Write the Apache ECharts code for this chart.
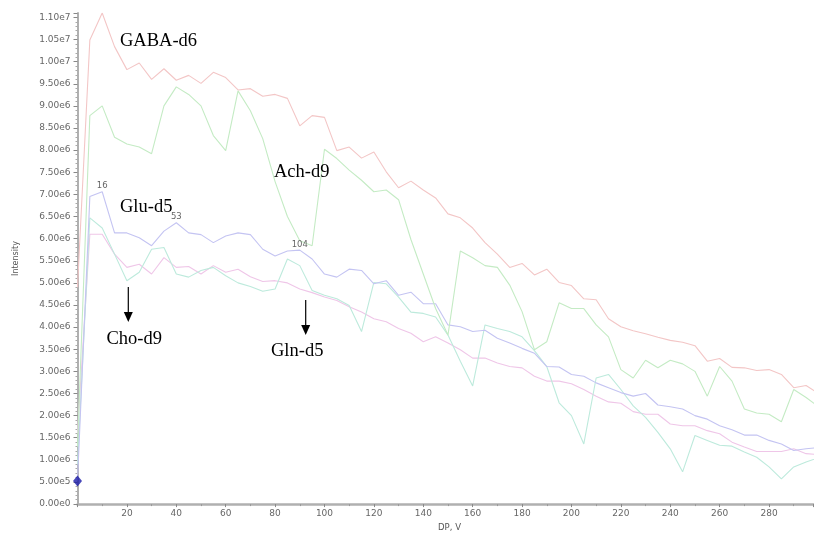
<!DOCTYPE html>
<html>
<head>
<meta charset="utf-8">
<style>
  html, body { margin: 0; padding: 0; background: #fff; }
  #chart { width: 814px; height: 537px; }
</style>
<script src="https://cdn.jsdelivr.net/npm/echarts@6/dist/echarts.min.js"></script>
</head>
<body>
<div id="chart"></div>
<script>
// Declustering potential (V) sampled every 5 V
const dpValues = [0, 5, 10, 15, 20, 25, 30, 35, 40, 45, 50, 55, 60, 65, 70, 75, 80, 85, 90, 95,
  100, 105, 110, 115, 120, 125, 130, 135, 140, 145, 150, 155, 160, 165, 170, 175, 180, 185, 190, 195,
  200, 205, 210, 215, 220, 225, 230, 235, 240, 245, 250, 255, 260, 265, 270, 275, 280, 285, 290, 295, 300];

// Intensities in units of 1e6 counts
const gabaD6 = [4.9, 10.49, 11.1, 10.34, 9.82, 9.97, 9.6, 9.84, 9.58, 9.69, 9.51, 9.76, 9.64, 9.36, 9.39, 9.22, 9.26, 9.17, 8.55, 8.78,
  8.74, 7.99, 8.07, 7.82, 7.96, 7.51, 7.15, 7.30, 7.10, 6.92, 6.56, 6.47, 6.24, 5.91, 5.65, 5.35, 5.44, 5.18, 5.31, 5.01,
  4.94, 4.64, 4.62, 4.19, 4.01, 3.92, 3.85, 3.77, 3.70, 3.66, 3.58, 3.23, 3.29, 3.09, 3.08, 3.02, 3.04, 2.93, 2.63, 2.68, 2.50];

const achD9 = [1.3, 8.78, 9.0, 8.29, 8.14, 8.07, 7.92, 9.0, 9.43, 9.26, 9.0, 8.33, 7.99, 9.34, 8.89, 8.26, 7.29, 6.5, 5.95, 5.84,
  8.02, 7.81, 7.55, 7.32, 7.06, 7.10, 6.88, 5.98, 5.2, 4.42, 3.82, 5.72, 5.57, 5.39, 5.35, 4.95, 4.35, 3.49, 3.67, 4.55,
  4.42, 4.42, 4.05, 3.78, 3.04, 2.85, 3.25, 3.08, 3.25, 3.17, 3.0, 2.44, 3.11, 2.78, 2.15, 2.06, 2.03, 1.86, 2.59, 2.41, 2.2];

const gluD5 = [0.52, 6.95, 7.06, 6.13, 6.13, 6.02, 5.84, 6.17, 6.36, 6.13, 6.09, 5.91, 6.06, 6.13, 6.09, 5.76, 5.61, 5.72, 5.74, 5.54,
  5.2, 5.13, 5.31, 5.28, 4.98, 5.05, 4.72, 4.79, 4.53, 4.53, 4.05, 4.01, 3.9, 3.93, 3.75, 3.64, 3.52, 3.41, 3.11, 3.10,
  2.93, 2.89, 2.74, 2.63, 2.52, 2.44, 2.50, 2.24, 2.20, 2.15, 2.0, 1.92, 1.77, 1.68, 1.56, 1.56, 1.44, 1.36, 1.21, 1.25, 1.28];

const choD9 = [0.9, 6.47, 6.24, 5.65, 5.05, 5.24, 5.76, 5.8, 5.2, 5.13, 5.28, 5.35, 5.16, 5.0, 4.92, 4.81, 4.86, 5.54, 5.39, 4.83,
  4.72, 4.64, 4.49, 3.90, 5.01, 4.98, 4.68, 4.34, 4.31, 4.23, 3.82, 3.23, 2.67, 4.05, 3.97, 3.9, 3.78, 3.47, 3.11, 2.29,
  2.0, 1.36, 2.85, 2.93, 2.59, 2.22, 1.96, 1.62, 1.25, 0.73, 1.55, 1.44, 1.33, 1.31, 1.18, 1.06, 0.84, 0.57, 0.84, 0.95, 1.05];

const glnD5 = [1.6, 6.1, 6.1, 5.65, 5.35, 5.42, 5.2, 5.57, 5.35, 5.37, 5.2, 5.39, 5.24, 5.31, 5.14, 5.03, 5.05, 5.0, 4.86, 4.78,
  4.68, 4.6, 4.46, 4.34, 4.19, 4.12, 3.97, 3.86, 3.67, 3.78, 3.64, 3.49, 3.30, 3.30, 3.19, 3.11, 3.08, 2.89, 2.78, 2.78,
  2.72, 2.59, 2.44, 2.31, 2.28, 2.09, 2.03, 2.03, 1.81, 1.77, 1.77, 1.66, 1.59, 1.40, 1.29, 1.19, 1.19, 1.19, 1.25, 1.14, 1.12];

// Peak tags on the Glu-d5 trace: [index into dpValues, tag]
const gluTags = [[2, '16'], [8, '53'], [18, '104']];

const yTickStep = 0.5;   // 5.00e5
const yMax = 11.1;
const xMax = 298;

function pairs(values) {
  return values.map((v, i) => [dpValues[i], v]);
}

function lineSeries(name, values, color, extra) {
  return Object.assign({
    name: name, type: 'line', data: pairs(values),
    showSymbol: false, symbol: 'none', clip: true,
    lineStyle: { color: color, width: 1.1 },
    emphasis: { disabled: true }, silent: true, z: 2
  }, extra || {});
}

// Small numeric tags sitting on top of selected Glu-d5 points
const gluTagMarks = {
  markPoint: {
    silent: true,
    symbol: 'circle', symbolSize: 0,
    label: {
      show: true, position: 'top', distance: 1,
      fontFamily: 'DejaVu Sans', fontSize: 8.5, color: '#666',
      formatter: p => p.name
    },
    data: gluTags.map(t => ({ name: t[1], coord: [dpValues[t[0]], gluD5[t[0]]] }))
  }
};

const chart = echarts.init(document.getElementById('chart'), null, { renderer: 'canvas' });

const serif = '"Liberation Serif", "Times New Roman", serif';

function arrow(x, y1, y2) {
  return [
    { type: 'line', shape: { x1: x, y1: y1, x2: x, y2: y2 - 8 }, style: { stroke: '#000', lineWidth: 1.2 }, z: 10 },
    { type: 'polygon', shape: { points: [[x - 4.5, y2 - 10], [x + 4.5, y2 - 10], [x, y2]] }, style: { fill: '#000' }, z: 10 }
  ];
}

function note(text, x, y) {
  return { type: 'text', x: x, y: y, style: { text: text, font: '18.5px ' + serif, fill: '#000', align: 'left', verticalAlign: 'bottom' }, z: 10 };
}

chart.setOption({
  animation: false,
  backgroundColor: '#fff',
  grid: { left: 77.5, right: 0.5, top: 13, bottom: 28, containLabel: false },
  xAxis: {
    type: 'value', min: 0, max: xMax, interval: 20,
    name: 'DP, V', nameLocation: 'middle', nameGap: 18,
    nameTextStyle: { fontFamily: 'DejaVu Sans', fontSize: 8.5, color: '#555', padding: [0, 0, 0, 8] },
    axisLine: { show: true, lineStyle: { color: '#b0b0b0', width: 2.5 } },
    axisTick: { show: true, length: 3, inside: false, lineStyle: { color: '#888' } },
    minorTick: { show: true, splitNumber: 2, length: 2, lineStyle: { color: '#999' } },
    splitLine: { show: false },
    axisLabel: {
      fontFamily: 'DejaVu Sans', fontSize: 9, color: '#666', margin: 5,
      showMinLabel: false, showMaxLabel: false,
      formatter: v => (v === 0 ? '' : String(v))
    }
  },
  yAxis: {
    type: 'value', min: 0, max: yMax, interval: yTickStep,
    name: 'Intensity', nameLocation: 'middle', nameGap: 58, nameRotate: 90,
    nameTextStyle: { fontFamily: 'DejaVu Sans', fontSize: 8, color: '#555' },
    axisLine: { show: true, lineStyle: { color: '#b0b0b0', width: 2 } },
    axisTick: { show: true, length: 4, lineStyle: { color: '#888' } },
    minorTick: { show: true, splitNumber: 5, length: 2, lineStyle: { color: '#aaa' } },
    splitLine: { show: false },
    axisLabel: {
      fontFamily: 'DejaVu Sans', fontSize: 9, color: '#666', margin: 7,
      showMaxLabel: false,
      formatter: v => {
        if (Math.abs(v / yTickStep - Math.round(v / yTickStep)) > 1e-6) return '';
        return (v * 1e6).toExponential(2).replace('+', '');
      }
    }
  },
  series: [
    lineSeries('Gln-d5', glnD5, '#efc6e8'),
    lineSeries('Cho-d9', choD9, '#bdeadc'),
    lineSeries('Glu-d5', gluD5, '#c4c4f2', gluTagMarks),
    lineSeries('Ach-d9', achD9, '#c4ebc4'),
    lineSeries('GABA-d6', gabaD6, '#f3c6c6'),
    {
      name: 'cursor', type: 'scatter', clip: false, silent: true, z: 5,
      data: [[dpValues[0], gluD5[0]]],
      symbol: 'diamond', symbolSize: [9, 11],
      itemStyle: { color: '#1a1aa8' }
    }
  ],
  graphic: [
    note('GABA-d6', 120, 51),
    note('Ach-d9', 274, 182),
    note('Glu-d5', 120, 217),
    note('Cho-d9', 106.5, 349),
    note('Gln-d5', 271, 361),
    ...arrow(128.3, 287, 322),
    ...arrow(305.7, 300, 335)
  ]
});
</script>
</body>
</html>
